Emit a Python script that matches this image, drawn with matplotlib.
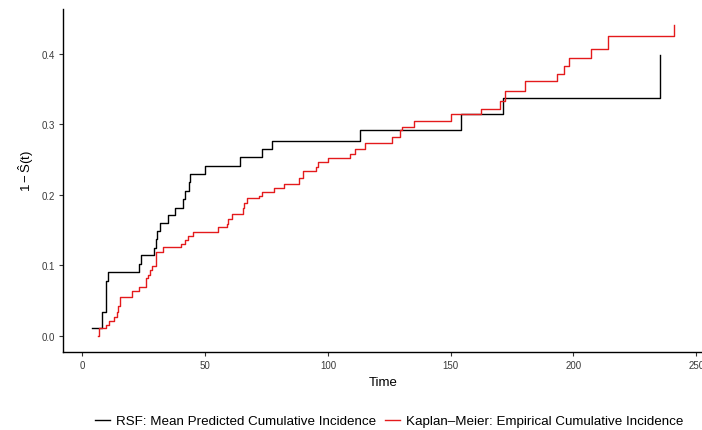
import matplotlib
matplotlib.use('Agg')
import matplotlib.pyplot as plt
from matplotlib.ticker import FormatStrFormatter

plt.rcParams['font.family'] = ['Liberation Sans', 'DejaVu Sans']
plt.rcParams['mathtext.fontset'] = 'custom'
plt.rcParams['mathtext.rm'] = 'Liberation Sans'
plt.rcParams['mathtext.it'] = 'Liberation Sans'

# step curves
rsf_time = [3.95, 7.8, 9.8, 10.5, 23.0, 23.9, 29.1, 29.9, 30.4, 31.8,
            34.9, 37.6, 40.8, 41.7, 43.4, 43.8, 49.9, 64.1, 73.2, 77.1,
            113.0, 154.1, 171.2, 235.3]
rsf_cif = [0.0117, 0.034, 0.0785, 0.091, 0.102, 0.115, 0.125, 0.137, 0.149, 0.160,
           0.171, 0.182, 0.194, 0.206, 0.218, 0.229, 0.241, 0.253, 0.2645, 0.276,
           0.292, 0.314, 0.3376, 0.398]

km_time = [6.3, 6.7, 9.8, 10.8, 12.9, 13.9, 14.6, 15.2, 20.0, 23.0,
           26.1, 26.8, 27.5, 28.2, 29.9, 32.9, 40.1, 41.7, 42.8, 44.9,
           55.1, 59.0, 59.4, 60.8, 65.2, 65.9, 66.9, 72.1, 73.1, 77.9,
           82.1, 88.2, 89.9, 95.0, 96.0, 100.1, 109.0, 111.0, 115.1, 126.0,
           129.3, 130.0, 135.0, 150.1, 162.2, 170.1, 172.1, 180.3, 193.2, 196.2,
           198.3, 207.2, 214.2, 241.1]
km_cif = [0.0, 0.0117, 0.0164, 0.022, 0.027, 0.034, 0.043, 0.0557, 0.064, 0.069,
          0.0825, 0.087, 0.0936, 0.0997, 0.1186, 0.1262, 0.130, 0.136, 0.142, 0.148,
          0.154, 0.1586, 0.166, 0.1727, 0.181, 0.188, 0.195, 0.1986, 0.2034, 0.210,
          0.215, 0.2235, 0.234, 0.240, 0.2466, 0.2528, 0.2575, 0.2645, 0.273, 0.282,
          0.292, 0.2966, 0.3045, 0.314, 0.322, 0.3328, 0.347, 0.361, 0.3715, 0.383,
          0.394, 0.406, 0.4246, 0.441]

x_ticks = [0, 50, 100, 150, 200, 250]
y_ticks = [0.0, 0.1, 0.2, 0.3, 0.4]

fig = plt.figure(figsize=(7.02, 4.31), dpi=100)
ax = fig.add_axes([63 / 702, 78.3 / 431, 640.5 / 702, 342.7 / 431])

ax.step(rsf_time, rsf_cif, where='post', color='black', lw=1.0,
        label='RSF: Mean Predicted Cumulative Incidence')
ax.step(km_time, km_cif, where='post', color='#E41A1C', lw=1.0,
        label='Kaplan\u2013Meier: Empirical Cumulative Incidence')

# ggplot-like 5% expansion
xmin, xmax = min(rsf_time + km_time), max(rsf_time + km_time)
ymin, ymax = min(rsf_cif + km_cif), max(rsf_cif + km_cif)
ax.set_xlim(xmin - 0.05 * (xmax - xmin), xmax + 0.05 * (xmax - xmin))
ax.set_ylim(ymin - 0.05 * (ymax - ymin), ymax + 0.05 * (ymax - ymin))

ax.set_xticks(x_ticks)
ax.set_yticks(y_ticks)
ax.yaxis.set_major_formatter(FormatStrFormatter('%.1f'))
ax.tick_params(direction='out', length=3, width=0.8, color='#333333',
               labelsize=7, labelcolor='#3A3A3A', pad=3)

for side in ['top', 'right']:
    ax.spines[side].set_visible(False)
for side in ['left', 'bottom']:
    ax.spines[side].set_linewidth(1.0)
    ax.spines[side].set_color('black')

ax.set_xlabel('Time', fontsize=9.5, labelpad=4.5)
ax.set_ylabel(r'$1-\hat{S}(t)$', fontsize=9.5)
ax.yaxis.set_label_coords(-0.042, 0.53)

fig.legend(loc='center', bbox_to_anchor=(389 / 702, 1 - 422 / 431), ncol=2,
           frameon=False, fontsize=9.6, handlelength=1.1, handletextpad=0.45,
           columnspacing=0.7, borderaxespad=0)

fig.savefig('out.png', dpi=100)
